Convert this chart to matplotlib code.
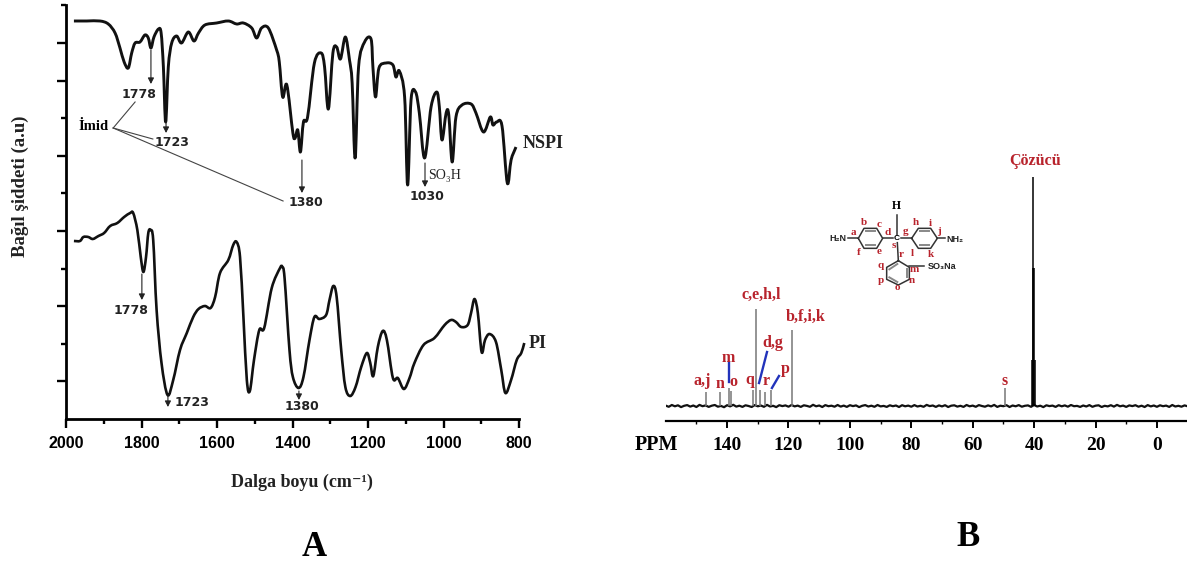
import numpy as np
import matplotlib
matplotlib.use("Agg")
import matplotlib.pyplot as plt
from matplotlib.path import Path
from matplotlib.patches import PathPatch

SERIF = ['Liberation Serif', 'DejaVu Serif']
SANS = ['Liberation Sans', 'DejaVu Sans']
RED = '#b8232c'
BLUE = '#2233bb'
W, H = 1187, 562

# FTIR spectra, panel A (wavenumber, arbitrary intensity)
nspi_wave = [1979, 1945, 1910, 1888, 1870, 1857, 1846, 1835, 1826, 1817, 1804, 1791, 1782, 1775, 1767, 1755,
             1748, 1742, 1736, 1729, 1720, 1707, 1694, 1676, 1661, 1649, 1632, 1601, 1570, 1548, 1530, 1508,
             1495, 1482, 1464, 1442, 1435, 1426, 1415, 1399, 1393, 1386, 1379, 1371, 1360, 1342, 1324, 1315,
             1305, 1293, 1283, 1273, 1260, 1249, 1242, 1234, 1225, 1209, 1192, 1187, 1180, 1171, 1152, 1134,
             1126, 1117, 1103, 1095, 1086, 1074, 1064, 1050, 1033, 1018, 1011, 1004, 993, 986, 977, 967,
             951, 927, 914, 894, 876, 869, 859, 845, 831, 821, 808]
nspi_int = [398, 398, 398, 395, 386, 371, 357, 351, 366, 376, 377, 384, 381, 371, 382, 390,
            386, 352, 297, 352, 376, 383, 376, 387, 378, 386, 394, 396, 398, 395, 396, 391,
            381, 391, 391, 369, 357, 322, 334, 286, 281, 289, 267, 297, 302, 356, 366, 352,
            310, 366, 372, 360, 382, 359, 336, 261, 352, 377, 380, 352, 322, 351, 356, 354,
            342, 348, 322, 234, 319, 327, 306, 261, 312, 327, 312, 279, 306, 304, 257, 302,
            314, 315, 306, 287, 302, 294, 297, 293, 236, 259, 272]

pi_wave = [1979, 1963, 1954, 1941, 1929, 1914, 1899, 1883, 1864, 1846, 1830, 1822, 1811, 1802, 1795, 1788,
           1782, 1776, 1769, 1760, 1747, 1731, 1716, 1698, 1680, 1663, 1649, 1632, 1617, 1605, 1592, 1570,
           1557, 1548, 1539, 1530, 1521, 1513, 1502, 1488, 1475, 1455, 1433, 1427, 1421, 1408, 1399, 1384,
           1371, 1355, 1342, 1329, 1311, 1302, 1292, 1283, 1271, 1260, 1247, 1233, 1218, 1203, 1194, 1186,
           1174, 1161, 1150, 1134, 1121, 1105, 1090, 1077, 1053, 1024, 997, 980, 967, 953, 936, 927,
           918, 909, 899, 890, 878, 861, 847, 836, 821, 806, 794, 786]
pi_int = [178, 178, 182, 182, 180, 183, 186, 193, 196, 202, 206, 206, 189, 162, 147, 162,
          186, 189, 179, 109, 56, 24, 39, 69, 86, 102, 110, 113, 111, 122, 146, 159,
          174, 177, 162, 102, 39, 28, 59, 89, 91, 131, 151, 152, 141, 69, 42, 31,
          42, 79, 102, 100, 104, 119, 133, 122, 69, 32, 23, 32, 52, 66, 56, 43,
          72, 88, 79, 41, 41, 30, 41, 56, 74, 81, 94, 99, 97, 92, 94, 106,
          120, 106, 67, 79, 85, 77, 49, 26, 39, 59, 66, 76]

a_major = [38, 113, 188, 263, 338, 376]
a_minor = [75, 150, 226, 301, 414]

# peak labels of panel A: label, arrow x, arrow start, arrow end, text x, text y
a_peaks = [('1778', 1775, 369, 335, 1807, 324),
           ('1723', 1735, 297, 286, 1719, 277),
           ('1380', 1375, 259, 226, 1364, 217),
           ('1030', 1049, 256, 232, 1044, 223),
           ('1778', 1799, 145, 119, 1828, 108),
           ('1723', 1730, 23, 12, 1666, 17),
           ('1380', 1383, 28, 19, 1375, 12)]

# 13C NMR, panel B
peak_ppm = [146.8, 142.2, 139.5, 138.7, 131.7, 130.6, 129.4, 127.6, 125.8, 118.7, 49.6]
peak_height = [14, 14, 18, 15, 16, 97, 16, 14, 16, 76, 18]
solvent_ppm = [40.7, 40.4, 40.2, 40.0, 39.7]
solvent_height = [46, 138, 229, 138, 46]
ppm_labels = [140, 120, 100, 80, 60, 40, 20, 0]
ppm_minor = [150, 130, 110, 90, 70, 50, 30, 10]

baseline = [0.4, -0.8, 1.0, -0.3, 0.7, -1.1, 0.2, 0.9, -0.6, 0.5, -1.0, 1.1, -0.2, 0.6, -0.9, 0.3, 1.0, -0.7, 0.1, -1.2,
            0.8, -0.4, 1.2, -0.6, 0.3, -0.9, 0.7, 0.0, -1.0, 0.9, -0.3, 0.5, -0.8, 1.1, -0.5, 0.2, -1.1, 0.8, -0.1, 0.6,
            -0.7, 1.0, -0.4, 0.4, -0.9, 0.7, 0.1, -0.8, 1.2, -0.3, 0.5, -1.0, 0.9, -0.2, 0.3, -0.7, 1.0, -0.6, 0.4, -0.9,
            0.8, -0.1, 0.6, -1.1, 0.2, 0.9, -0.5, 0.3, -0.8, 1.0, -0.4, 0.1, -0.9, 0.7, -0.2, 0.5, -1.0, 0.8, -0.3, 0.4,
            -0.7, 0.9, -0.5, 0.2, -0.8, 1.1, -0.1, 0.5, -0.9, 0.6, -0.4, 0.8, -1.0, 0.3, 0.7, -0.6, 0.2, -0.9, 1.0, -0.3,
            0.4, -0.8, 0.9, 0.0, -0.7, 0.6, -0.4, 1.1, -0.9, 0.3, -0.2, 0.8, -1.0, 0.5, -0.3, 0.9, -0.7, 0.2, 0.6, -0.8,
            1.0, -0.5, 0.3, -1.1, 0.7, -0.1, 0.4, -0.9, 0.8, -0.3, 0.6, -0.7, 1.0, -0.2, 0.1, -0.9, 0.5, -0.5, 0.9, -0.8,
            0.3, 0.7, -1.0, 0.2, -0.4, 0.8, -0.6, 1.1, -0.3, 0.4, -0.9, 0.6, -0.1, 0.8, -0.7, 0.3, -1.0, 0.9, -0.4, 0.5,
            -0.8, 0.7, -0.2, 0.4, -0.9, 1.0, -0.5, 0.2, -0.7, 0.6, -0.3]

# red peak letters: text, ppm, height
b_labels = [('a,j', 148.2, 25), ('n', 142.3, 22), ('m', 139.7, 48), ('o', 138.1, 24), ('q', 132.6, 26),
            ('c,e,h,l', 129.0, 111), ('b,f,i,k', 114.3, 89), ('d,g', 125.1, 63), ('r', 127.4, 25),
            ('p', 121.2, 37), ('s', 49.5, 25), ('Çözücü', 39.7, 245)]
b_leaders = [(139.5, 43, 139.5, 24), (127.0, 54, 129.6, 23), (123.1, 30, 125.4, 18)]

fig = plt.figure(figsize=(W / 100, H / 100), dpi=100)


def axes_px(x0, y0, x1, y1):
    return fig.add_axes([x0 / W, 1 - y1 / H, (x1 - x0) / W, (y1 - y0) / H])


def draw_curve(ax, xs, ys, lw):
    # the measured points joined by a rounded line instead of straight pieces
    p = np.column_stack([xs, ys]).astype(float)
    tang = np.gradient(p, axis=0) / 3.0
    verts = [p[0]]
    for i in range(len(p) - 1):
        verts += [p[i] + tang[i], p[i + 1] - tang[i + 1], p[i + 1]]
    codes = [Path.MOVETO] + [Path.CURVE4] * (len(verts) - 1)
    ax.add_patch(PathPatch(Path(verts, codes), fill=False, edgecolor='#111111', lw=lw,
                           joinstyle='round', clip_on=False))


# Panel A
ax = axes_px(66, 5, 519, 419)
ax.set_xlim(2000, 800)
ax.set_ylim(0, 414)
draw_curve(ax, nspi_wave, nspi_int, 2.1)
draw_curve(ax, pi_wave, pi_int, 1.9)
ax.spines[['top', 'right']].set_visible(False)
ax.spines[['left', 'bottom']].set_linewidth(2)
ax.set_xticks([2000, 1800, 1600, 1400, 1200, 1000, 800])
ax.set_xticks([1900, 1700, 1500, 1300, 1100, 900], minor=True)
ax.set_yticks(a_major)
ax.set_yticks(a_minor, minor=True)
ax.set_yticklabels([])
ax.tick_params(which='major', length=6.5, width=1.7)
ax.tick_params(which='minor', length=3.5, width=1.7)
ax.tick_params(axis='x', pad=5.5)
for t in ax.get_xticklabels():
    t.set_family(SANS)
    t.set_fontweight('bold')
    t.set_fontsize(11.5)

for label, x, y0, y1, tx, ty in a_peaks:
    ax.annotate('', xy=(x, y1), xytext=(x, y0), annotation_clip=False,
                arrowprops=dict(arrowstyle='-|>,head_width=0.18,head_length=0.35', color='#222222', lw=0.8,
                                shrinkA=0, shrinkB=0))
    ax.text(tx, ty, label, family='DejaVu Sans', fontweight='bold', fontsize=9, color='#222222',
            ha='center', va='center')

ax.text(996, 243, 'SO₃H', family=SERIF, fontsize=10, ha='center', va='center', color='#222222')
ax.text(736, 276, 'NSPI', family=SERIF, fontweight='bold', fontsize=13, ha='center', va='center', color='#222222')
ax.text(750, 76, 'PI', family=SERIF, fontweight='bold', fontsize=13, ha='center', va='center', color='#222222')
ax.text(1926, 292, 'İmid', family=SERIF, fontweight='bold', fontsize=10.5, ha='center', va='center')
for x1, y1 in [(1817, 317), (1770, 280), (1425, 218)]:
    ax.plot([1875, x1], [291, y1], color='#444444', lw=0.8, clip_on=False)

# Panel B
bx = axes_px(666, 140, 1187, 421)
bx.plot(np.linspace(160, -10, len(baseline)), baseline, color='#111111', lw=1.6)
bx.vlines(peak_ppm, 0, peak_height, color='#777777', lw=1.1)
bx.vlines(solvent_ppm, 0, solvent_height, color='black', lw=1.1)
bx.set_xlim(159.9, -9.8)
bx.set_ylim(-15, 266)
bx.spines[['top', 'left', 'right']].set_visible(False)
bx.spines['bottom'].set_linewidth(1.6)
bx.set_yticks([])
bx.set_xticks(ppm_labels)
bx.set_xticks(ppm_minor, minor=True)
bx.tick_params(which='major', length=5, width=1.4, pad=6.5)
bx.tick_params(which='minor', length=2.5, width=1)
for t in bx.get_xticklabels():
    t.set_family(SERIF)
    t.set_fontweight('bold')
    t.set_fontsize(14)
for label, x, y in b_labels:
    bx.text(x, y, label, family=SERIF, fontweight='bold', fontsize=11.5, color=RED, ha='center', va='center')
for x0, y0, x1, y1 in b_leaders:
    bx.plot([x0, x1], [y0, y1], color=BLUE, lw=1.7)

# Structure drawn in zoomed pixel units
sx = axes_px(810, 190, 980, 300)
sx.set_xlim(0, 510)
sx.set_ylim(330, 0)
sx.axis('off')
rings = [[(145, 145), (162, 115), (200, 115), (218, 145), (200, 175), (162, 175), (145, 145)],
         [(305, 145), (325, 115), (362, 115), (382, 145), (362, 175), (325, 175), (305, 145)],
         [(265, 212), (298, 232), (298, 268), (265, 285), (230, 268), (230, 232), (265, 212)]]
for ring in rings:
    sx.plot(*zip(*ring), color='#333333', lw=1.1)
inner = [[(168, 124), (195, 124)], [(168, 166), (195, 166)], [(331, 124), (356, 124)], [(331, 166), (356, 166)],
         [(290, 238), (290, 262)], [(238, 238), (262, 222)], [(238, 262), (262, 276)]]
for seg in inner:
    sx.plot(*zip(*seg), color='#888888', lw=1.4)
bonds = [[(115, 145), (145, 145)], [(218, 145), (248, 145)], [(272, 145), (305, 145)], [(260, 75), (260, 135)],
         [(262, 158), (265, 212)], [(298, 228), (342, 228)], [(382, 145), (405, 145)]]
for seg in bonds:
    sx.plot(*zip(*seg), color='#333333', lw=1.1)
sx.text(260, 47, 'H', family=SERIF, fontweight='bold', fontsize=8.5, ha='center', va='center')
sx.text(260, 147, 'C', family=SANS, fontweight='bold', fontsize=6, ha='center', va='center')
for s, x, y in [('H₂N', 83, 146), ('NH₂', 435, 149), ('SO₃Na', 395, 229)]:
    sx.text(x, y, s, family=SANS, fontweight='bold', fontsize=6.5, ha='center', va='center', color='#222222')
letters = [('a', 130, 128), ('b', 162, 97), ('c', 208, 103), ('d', 232, 127), ('e', 208, 185), ('f', 145, 187),
           ('g', 287, 125), ('h', 318, 98), ('i', 362, 100), ('j', 388, 125), ('k', 362, 195), ('l', 308, 190),
           ('s', 250, 168), ('r', 272, 195), ('q', 212, 226), ('p', 212, 272), ('o', 263, 292), ('n', 305, 272),
           ('m', 312, 240)]
for s, x, y in letters:
    sx.text(x, y, s, family=SERIF, fontweight='bold', fontsize=8, color=RED, ha='center', va='center')

# Outer labels
fig.text(20 / W, 1 - 186 / H, 'Bağıl şiddeti (a.u)', family=SERIF, fontweight='bold', fontsize=13.5,
         rotation=90, ha='center', va='center', color='#222222')
fig.text(302 / W, 1 - 482 / H, 'Dalga boyu (cm⁻¹)', family=SERIF, fontweight='bold', fontsize=13,
         ha='center', va='center', color='#222222')
fig.text(656 / W, 1 - 445 / H, 'PPM', family=SERIF, fontweight='bold', fontsize=14.5, ha='center', va='center')
fig.text(314 / W, 1 - 547 / H, 'A', family=SERIF, fontweight='bold', fontsize=25, ha='center', va='center')
fig.text(968 / W, 1 - 537 / H, 'B', family=SERIF, fontweight='bold', fontsize=25, ha='center', va='center')

fig.savefig('out.png', dpi=100)
